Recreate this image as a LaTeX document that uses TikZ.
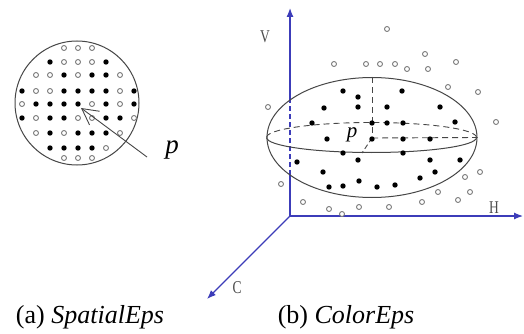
\documentclass[tikz,border=0pt]{standalone}
\usepackage{fontspec}
\setmainfont{Liberation Serif}
\usetikzlibrary{arrows.meta, shapes.geometric}
\definecolor{axisblue}{RGB}{60,60,185}
\definecolor{dotgray}{RGB}{125,125,125}
\definecolor{shellgray}{RGB}{70,70,70}

\begin{document}
\begin{tikzpicture}[x=1pt, y=-1pt,
    full/.style={fill=black},
    hollow/.style={draw=dotgray, line width=0.9pt, fill=white},
    axis/.style={draw=axisblue, line width=1.2pt},
    axtip/.style={-{Latex[length=9pt, width=7pt]}},
    axlabel/.style={text=black!70, font=\fontsize{18}{18}\selectfont, xscale=0.75},
    caption/.style={font=\fontsize{26}{30}\selectfont}
]
    \useasboundingbox (0,0) rectangle (524,334);

    % SpatialEps: circle with grid of samples
    \node[circle, draw=shellgray, line width=1pt, minimum size=124pt, inner sep=0pt] (circ) at (77,103) {};
    \foreach \y/\cols in {62/{2,6}, 75/{3,5,6}, 91/{0,3,4,5,6,8}, 104/{1,2,3,4,6,8},
                          118/{0,2,3,6,7}, 133/{2,4,5,6}, 148/{2,3,4,5}}
        \foreach \c in \cols \fill[full] (22+14*\c,\y) circle (2.7);
    \foreach \y/\cols in {48/{3,4,5}, 62/{3,4,5}, 75/{1,2,4,7}, 91/{1,2,7}, 104/{0,5,7},
                          118/{1,4,5,8}, 133/{1,3,7}, 148/{6}, 158/{3,4,5}}
        \foreach \c in \cols \draw[hollow] (22+14*\c,\y) circle (2.5);

    % pointer to p
    \coordinate (ptail) at (147,157);
    \coordinate (ptip) at (81,108);
    \draw[draw=shellgray, line width=0.9pt, -{Straight Barb[length=16pt, width=17pt]}] (ptail) -- (ptip);
    \node[font=\fontsize{27}{27}\selectfont\itshape] (pleft) at (172,150) {p};

    % ColorEps: axes
    \coordinate (orig) at (290,216);
    \coordinate (vlo) at (290,175);
    \coordinate (vhi) at (290,100);
    \coordinate (vend) at (290,8);
    \coordinate (hend) at (523,216);
    \coordinate (cend) at (207,299);
    \draw[axis] (orig) -- (vlo);
    \draw[axis, dashed, dash pattern=on 5pt off 3pt] (vlo) -- (vhi);
    \draw[axis, axtip] (vhi) -- (vend);
    \draw[axis, axtip] (orig) -- (hend);
    \draw[axis, axtip] (orig) -- (cend);
    \node[axlabel] (vlab) at (265,37) {V};
    \node[axlabel] (hlab) at (494,208) {H};
    \node[axlabel] (clab) at (237,288) {C};

    % ellipsoid
    \node[ellipse, draw=shellgray, line width=1pt, minimum width=210pt, minimum height=120pt, inner sep=0pt] (ell) at (372,137.5) {};
    \coordinate (ctr) at (372,138);
    \draw[draw=shellgray, line width=0.9pt, dashed, dash pattern=on 6pt off 4pt]
        (ell.west) arc[start angle=180, end angle=360, x radius=105, y radius=15];
    \draw[draw=shellgray, line width=1pt]
        (ell.west) arc[start angle=180, end angle=0, x radius=105, y radius=15];
    \draw[draw=shellgray, line width=0.9pt, dashed, dash pattern=on 6pt off 4pt] (ell.north) -- (ctr);
    \draw[draw=shellgray, line width=0.9pt, dashed, dash pattern=on 6pt off 4pt] (ctr) -- (ell.east);
    \coordinate (front) at (362,153);
    \draw[draw=shellgray, line width=0.9pt, dashed, dash pattern=on 5pt off 3pt] (ctr) -- (front);
    \node[font=\fontsize{21}{21}\selectfont\itshape] (pright) at (352,135) {p};

    % samples inside
    \foreach \x/\y in {343/91, 402/91, 358/97, 324/108, 358/107, 387/107, 440/107,
                       312/123, 372/123, 387/123, 403/123, 455/122,
                       327/139, 372/139, 403/139, 430/139,
                       343/153, 403/153, 297/162, 358/160, 430/160, 460/160,
                       323/172, 435/172, 420/178, 329/187, 343/186, 359/181, 377/187, 395/185}
        \fill[full] (\x,\y) circle (2.7);
    % samples outside
    \foreach \x/\y in {387/29, 425/54, 456/62, 334/64, 366/64, 380/64, 395/64, 407/69, 428/69,
                       448/87, 478/92, 268/107, 496/122, 480/172, 465/177, 281/184,
                       438/192, 470/192, 458/200, 303/202, 422/202, 329/209, 359/207, 389/207, 342/214}
        \draw[hollow] (\x,\y) circle (2.5);

    % captions
    \node[caption] (capa) at (90,317) {(a) \textit{SpatialEps}};
    \node[caption] (capb) at (346,317) {(b) \textit{ColorEps}};
\end{tikzpicture}
\end{document}
